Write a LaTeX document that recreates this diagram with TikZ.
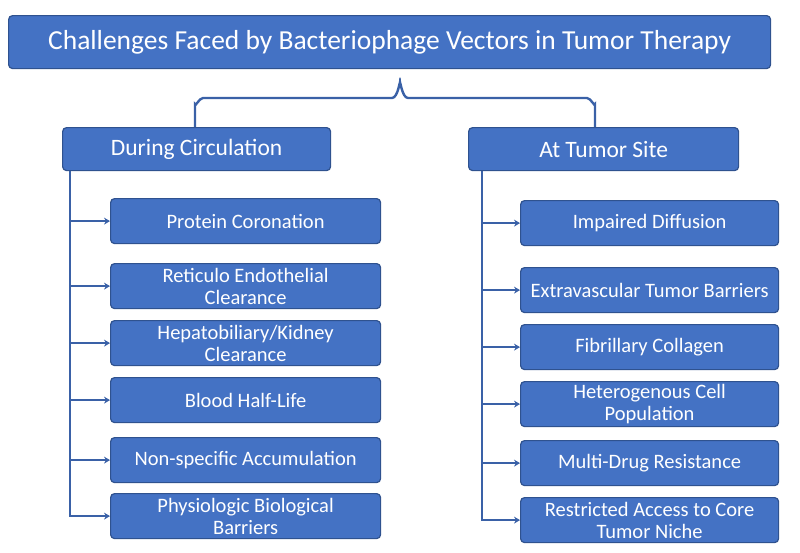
\documentclass[tikz,border=0pt]{standalone}
\usepackage{fontspec}
\setmainfont{Carlito}
\usetikzlibrary{arrows.meta}
\definecolor{boxfill}{HTML}{4472C4}
\definecolor{boxline}{HTML}{2F528F}
\begin{document}
\begin{tikzpicture}[x=1pt,y=-1pt,
  box/.style={draw=boxline,line width=1.2pt,fill=boxfill,rounded corners=4pt,text=white,align=center,inner sep=0pt,anchor=north west},
  conn/.style={draw=boxfill!85!black,line width=2.4pt},
  arr/.style={conn,-{Stealth[length=6pt,width=7pt]}}]
\useasboundingbox (0,0) rectangle (800,552);
\node[box,minimum width=762pt,minimum height=53pt,font=\fontsize{27.5}{30}\selectfont] (title) at (8,15) {Challenges Faced by Bacteriophage Vectors in Tumor Therapy};
\node[box,minimum width=268pt,minimum height=43pt,font=\fontsize{23.5}{26}\selectfont] (L) at (62,127) {During Circulation};
\node[box,minimum width=270pt,minimum height=43pt,font=\fontsize{23.5}{26}\selectfont] (R) at (468,127) {At Tumor Site};
\draw[conn] (L.north west -| 195,0) -- (195,104) to[out=-90,in=180] (203,98) -- (392,98) to[out=0,in=90] (400,84) to[out=90,in=180] (408,98) -- (587,98) to[out=0,in=-90] (595,104) -- (R.north west -| 595,0);
\foreach \n/\y/\t in {l1/198/{Protein Coronation},l2/263/{Reticulo Endothelial\\Clearance},l3/320/{Hepatobiliary/Kidney\\Clearance},l4/377/{Blood Half-Life},l5/437/{Non-specific Accumulation},l6/493/{Physiologic Biological\\Barriers}}{
  \node[box,minimum width=270pt,minimum height=45pt,font=\fontsize{20.5}{22}\selectfont] (\n) at (110,\y) {\t};
  \draw[arr] (L.south west -| 70,0) |- (\n.west);
}
\foreach \n/\y/\t in {r1/200/{Impaired Diffusion},r2/267/{Extravascular Tumor Barriers},r3/324/{Fibrillary Collagen},r4/381/{Heterogenous Cell\\Population},r5/440/{Multi-Drug Resistance},r6/497/{Restricted Access to Core\\Tumor Niche}}{
  \node[box,minimum width=258pt,minimum height=45pt,font=\fontsize{20.5}{22}\selectfont] (\n) at (520,\y) {\t};
  \draw[arr] (R.south west -| 482,0) |- (\n.west);
}
\end{tikzpicture}
\end{document}
